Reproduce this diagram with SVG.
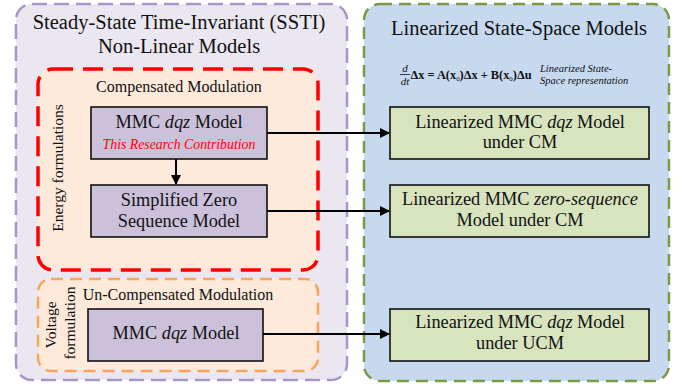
<svg xmlns="http://www.w3.org/2000/svg" width="682" height="387" viewBox="0 0 682 387" font-family="'Liberation Serif', 'Times New Roman', serif">
  <defs>
    <marker id="arrow" viewBox="0 0 10 10" refX="9" refY="5" markerWidth="5" markerHeight="5" orient="auto" markerUnits="strokeWidth">
      <path d="M0,0 L10,5 L0,10 z" fill="#000"/>
    </marker>
    <style>
      text { font-family: "Liberation Serif", "Times New Roman", serif; fill: #111; }
      .title { font-size: 20.5px; text-anchor: middle; }
      .label { font-size: 16px; text-anchor: middle; }
      .node { font-size: 18.3px; text-anchor: middle; }
      .side { font-size: 15.5px; text-anchor: middle; }
      .it { font-style: italic; }
      .purple { fill: #ccc1da; stroke: #111; stroke-width: 1.6; }
      .green { fill: #d7e4bd; stroke: #111; stroke-width: 1.6; }
      .conn { stroke: #000; stroke-width: 2; fill: none; marker-end: url(#arrow); }
    </style>
  </defs>

  <!-- Non-linear model panel -->
  <g id="panel-nonlinear">
    <rect x="16" y="4" width="331" height="376" rx="16" fill="#ebe7f0" stroke="#a797c5" stroke-width="2.5" stroke-dasharray="15 7"/>
    <text class="title" x="179" y="29">Steady-State Time-Invariant (SSTI)</text>
    <text class="title" x="179" y="53">Non-Linear Models</text>
  </g>

  <!-- Linearized panel -->
  <g id="panel-linear">
    <rect x="364" y="4" width="305" height="377" rx="16" fill="#c6d9ef" stroke="#7b9a45" stroke-width="2.5" stroke-dasharray="12 7"/>
    <text class="title" x="519" y="35">Linearized State-Space Models</text>
  </g>

  <!-- State-space equation -->
  <g id="equation">
    <text x="405" y="72" font-size="11px" font-style="italic" text-anchor="middle">d</text>
    <line x1="400" y1="74.5" x2="410" y2="74.5" stroke="#111" stroke-width="0.8"/>
    <text x="405" y="84.5" font-size="11px" font-style="italic" text-anchor="middle">dt</text>
    <text x="410.5" y="78.5" font-size="12.5px" font-weight="bold" textLength="121" lengthAdjust="spacingAndGlyphs">Δx = A(x<tspan font-size="7px" font-weight="normal" dy="2">0</tspan><tspan dy="-2">)Δx + B(x</tspan><tspan font-size="7px" font-weight="normal" dy="2">0</tspan><tspan dy="-2">)Δu</tspan></text>
    <text x="540" y="72" font-size="10.5px" font-style="italic">Linearized State-</text>
    <text x="540" y="83.5" font-size="10.5px" font-style="italic">Space representation</text>
  </g>

  <!-- Compensated modulation group -->
  <g id="group-cm">
    <rect x="38" y="69" width="280" height="201" rx="15" fill="#fdeadb" stroke="#ff0000" stroke-width="3.5" stroke-dasharray="20 10"/>
    <text class="label" x="179" y="92">Compensated Modulation</text>
    <text class="side" transform="translate(63,168) rotate(-90)">Energy formulations</text>
  </g>

  <!-- Un-compensated modulation group -->
  <g id="group-ucm">
    <rect x="38" y="279" width="280" height="92" rx="13" fill="#fdeadb" stroke="#f5a55d" stroke-width="2.5" stroke-dasharray="12 7"/>
    <text class="label" x="178" y="300">Un-Compensated Modulation</text>
    <text class="side" transform="translate(56,325) rotate(-90)">Voltage</text>
    <text class="side" transform="translate(74.5,323) rotate(-90)">formulation</text>
  </g>

  <!-- Non-linear model nodes -->
  <g id="node-dqz-cm">
    <rect class="purple" x="91" y="107" width="176" height="52"/>
    <text class="node" x="179" y="128">MMC <tspan class="it">dqz</tspan> Model</text>
    <text x="179" y="149" font-size="13.8px" font-style="italic" text-anchor="middle" style="fill:#ff0000">This Research Contribution</text>
  </g>
  <g id="node-zero-seq">
    <rect class="purple" x="91" y="185" width="176" height="52"/>
    <text class="node" x="179" y="206">Simplified Zero</text>
    <text class="node" x="179" y="227">Sequence Model</text>
  </g>
  <g id="node-dqz-ucm">
    <rect class="purple" x="88" y="309" width="175" height="52"/>
    <text class="node" x="176" y="339">MMC <tspan class="it">dqz</tspan> Model</text>
  </g>

  <!-- Linearized nodes -->
  <g id="node-lin-dqz-cm">
    <rect class="green" x="390" y="107" width="259" height="52"/>
    <text class="node" x="520" y="128">Linearized MMC <tspan class="it">dqz</tspan> Model</text>
    <text class="node" x="520" y="148">under CM</text>
  </g>
  <g id="node-lin-zero-cm">
    <rect class="green" x="390" y="185" width="259" height="52"/>
    <text class="node" x="520" y="205">Linearized MMC <tspan class="it">zero-sequence</tspan></text>
    <text class="node" x="520" y="226">Model under CM</text>
  </g>
  <g id="node-lin-dqz-ucm">
    <rect class="green" x="390" y="309" width="259" height="52"/>
    <text class="node" x="520" y="328">Linearized MMC <tspan class="it">dqz</tspan> Model</text>
    <text class="node" x="520" y="349">under UCM</text>
  </g>

  <!-- Connectors -->
  <g id="connectors">
    <line class="conn" x1="267" y1="133" x2="389" y2="133"/>
    <line class="conn" x1="267" y1="211" x2="389" y2="211"/>
    <line class="conn" x1="263" y1="334" x2="389" y2="334"/>
    <line class="conn" x1="176" y1="159" x2="176" y2="184"/>
  </g>
</svg>
